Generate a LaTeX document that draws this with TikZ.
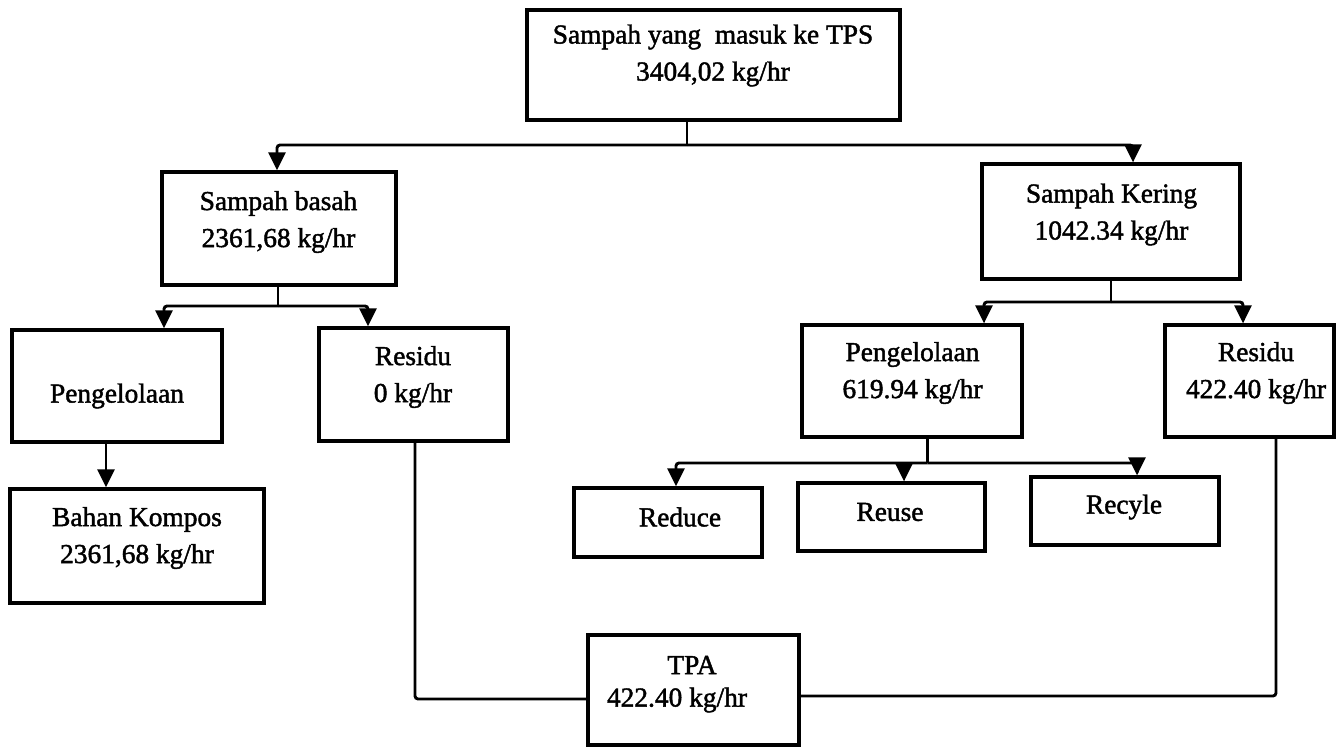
\documentclass[tikz,border=0pt]{standalone}
\usepackage{fontspec}
\setmainfont{Liberation Serif}[FakeBold=1.6]
\newfontfamily\heavyserif{Liberation Serif}[FakeBold=1.6]
\usetikzlibrary{arrows.meta}
\begin{document}
\begin{tikzpicture}[x=0.5pt,y=-0.5pt,
  box/.style={draw,line width=1.6pt,inner sep=0pt},
  txt/.style={align=center,font=\heavyserif\fontsize{13.7}{18.5}\selectfont,inner sep=0pt},
  conn/.style={line width=1.45pt,rounded corners=1.5pt},
  arr/.style={conn,-{Triangle[length=9pt,width=8.5pt]}}]
\useasboundingbox (0,0) rectangle (1341,747);
% boxes
\node[box,minimum width=186.5pt,minimum height=55pt] (top) at (713.5,65) {};
\node[box,minimum width=117pt,minimum height=56.5pt] (basah) at (279,228.5) {};
\node[box,minimum width=129pt,minimum height=57.5pt] (kering) at (1111,221.5) {};
\node[box,minimum width=105pt,minimum height=56pt] (pengL) at (117,386) {};
\node[box,minimum width=94.5pt,minimum height=56.5pt] (resL) at (413.5,384.5) {};
\node[box,minimum width=127pt,minimum height=57pt] (kompos) at (137,546) {};
\node[box,minimum width=110pt,minimum height=56pt] (pengR) at (912,381) {};
\node[box,minimum width=84.5pt,minimum height=56pt] (resR) at (1249.5,381) {};
\node[box,minimum width=94pt,minimum height=34.5pt] (reduce) at (668,522.5) {};
\node[box,minimum width=93.5pt,minimum height=34pt] (reuse) at (891.5,517) {};
\node[box,minimum width=94pt,minimum height=34pt] (recyle) at (1125,511) {};
\node[box,minimum width=105.5pt,minimum height=55pt] (tpa) at (693.5,690) {};
% texts
\node[txt] (topt) at (713,55.5) {Sampah yang~ masuk ke TPS\\3404,02 kg/hr};
\node[txt] (basaht) at (278.5,222) {Sampah basah\\2361,68 kg/hr};
\node[txt] (keringt) at (1111.5,214.5) {Sampah Kering\\1042.34 kg/hr};
\node[txt] (pengLt) at (117,396) {Pengelolaan};
\node[txt] (resLt) at (413,377) {Residu\\0 kg/hr};
\node[txt] (kompost) at (137,538) {Bahan Kompos\\2361,68 kg/hr};
\node[txt] (pengRt) at (912.5,373) {Pengelolaan\\619.94 kg/hr};
\node[txt] (resRt) at (1256,373) {Residu\\422.40 kg/hr};
\node[txt] (reducet) at (680,517) {Reduce};
\node[txt] (reuset) at (890,512) {Reuse};
\node[txt] (recylet) at (1124,507) {Recyle};
\node[txt] (tpat1) at (692,665) {TPA};
\node[txt] (tpat2) at (677,700) {422.40 kg/hr};
% connectors
\coordinate (j1) at (687,145);
\coordinate (a1) at (277,145);
\coordinate (a2) at (1133,145);
\draw[conn] (top.south -| j1) -- (j1);
\draw[arr] (j1) -- (a1) -- (a1 |- basah.north);
\draw[arr] (j1) -- (a2) -- (a2 |- kering.north);
\coordinate (j2) at (278,306);
\coordinate (b1) at (164,306);
\coordinate (b2) at (368,306);
\draw[conn] (basah.south -| j2) -- (j2);
\draw[arr] (j2) -- (b1) -- (b1 |- pengL.north);
\draw[arr] (j2) -- (b2) -- (b2 |- resL.north);
\coordinate (j3) at (1111,302);
\coordinate (c1) at (984,302);
\coordinate (c2) at (1243,302);
\draw[conn] (kering.south -| j3) -- (j3);
\draw[arr] (j3) -- (c1) -- (c1 |- pengR.north);
\draw[arr] (j3) -- (c2) -- (c2 |- resR.north);
\coordinate (d0) at (106,0);
\draw[arr] (pengL.south -| d0) -- (kompos.north -| d0);
\coordinate (j4) at (927.5,463);
\coordinate (e1) at (676,463);
\coordinate (e2) at (904,463);
\coordinate (e3) at (1137,463);
\draw[conn] (pengR.south -| j4) -- (j4);
\draw[arr] (j4) -- (e1) -- (e1 |- reduce.north);
\draw[arr] (e2) -- (e2 |- reuse.north);
\draw[arr] (j4) -- (e3) -- (e3 |- recyle.north);
\coordinate (f1) at (415,699);
\draw[conn] (resL.south -| f1) -- (f1) -- (f1 -| tpa.west);
\coordinate (g1) at (1276,696);
\draw[conn] (resR.south -| g1) -- (g1) -- (g1 -| tpa.east);
\end{tikzpicture}
\end{document}
